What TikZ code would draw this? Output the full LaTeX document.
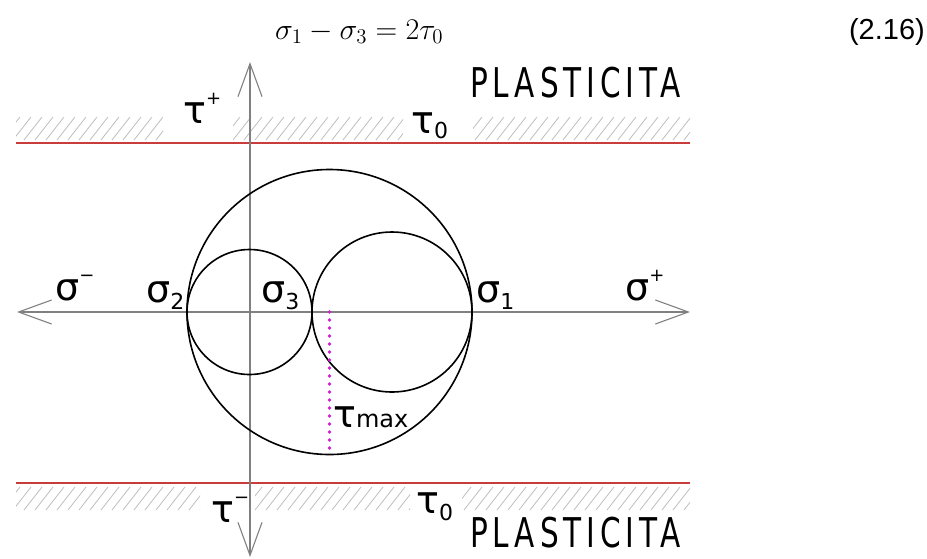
\documentclass[tikz,border=0pt]{standalone}
\usepackage{fontspec}
\usetikzlibrary{arrows.meta, positioning}
\newfontfamily\fuenteCAD{DejaVu Sans}
\newfontfamily\fuentePlast{DejaVu Sans}[FakeStretch=0.72, LetterSpace=12]
\newfontfamily\fuenteNum{Liberation Sans}
\definecolor{rojoLimite}{HTML}{C83C3C}
\definecolor{grisEje}{HTML}{808080}
\definecolor{grisRayado}{HTML}{BEBEBE}
\definecolor{magentaTau}{HTML}{D020D0}
\newcommand{\indSub}[2][-7pt]{\raisebox{#1}{\fontsize{22}{22}\selectfont #2}}
\newcommand{\indSup}[1]{\raisebox{19pt}{\fontsize{18}{18}\selectfont #1}}
\tikzset{
  ejeFlecha/.style={{Straight Barb[length=33pt, width=24pt]}-{Straight Barb[length=33pt, width=24pt]},
    line width=1.1pt, grisEje},
  limiteRojo/.style={line width=2pt, rojoLimite},
  rayado/.style={line width=0.8pt, grisRayado},
  circuloMohr/.style={circle, draw=black, line width=1.6pt, inner sep=0pt},
  lineaTau/.style={magentaTau, line width=3.6pt, line cap=round, dash pattern=on 0pt off 8pt},
  etiqueta/.style={font=\fuenteCAD\fontsize{38}{38}\selectfont, inner sep=0pt, anchor=base west},
  etiquetaPlast/.style={font=\fuentePlast\fontsize{41}{41}\selectfont, inner sep=0pt, anchor=base west},
}

\begin{document}
\begin{tikzpicture}[x=1pt, y=-1pt]
    \useasboundingbox (0,0) rectangle (927,558);
    % zonas de plasticidad (rayado)
    \foreach \ya/\yb/\xa/\xb in {117/140/16/163, 117/140/233/403, 117/140/473/690,
                                 486/510/16/200, 486/510/255/410, 486/510/462/690} {
      \begin{scope}
        \clip (\xa,\ya) rectangle (\xb,\yb);
        \foreach \x in {-20,-9,...,700} \draw[rayado] (\x,\yb) -- ++(18,-23);
      \end{scope}
    }
    \coordinate (limSupIzq) at (16,143);
    \coordinate (limSupDer) at (690,143);
    \coordinate (limInfIzq) at (16,483);
    \coordinate (limInfDer) at (690,483);
    \draw[limiteRojo] (limSupIzq) -- (limSupDer);
    \draw[limiteRojo] (limInfIzq) -- (limInfDer);
    % ejes
    \coordinate (ejeIzq) at (17,312);
    \coordinate (ejeDer) at (690,312);
    \coordinate (ejeArr) at (250,62);
    \coordinate (ejeAbj) at (250,557);
    \draw[ejeFlecha] (ejeIzq) -- (ejeDer);
    \draw[ejeFlecha] (ejeAbj) -- (ejeArr);
    % circulos de Mohr
    \node[circuloMohr, minimum size=285pt] (circGrande) at (329.5,312) {};
    \node[circuloMohr, minimum size=125pt] (circPeq) at (249.5,312) {};
    \node[circuloMohr, minimum size=160pt] (circMed) at (392,312) {};
    \draw[lineaTau] (circGrande.center) -- (circGrande.south);
    % etiquetas
    \node[anchor=base west, inner sep=0pt, font=\huge] (ecuacion) at (275,39)
      {\scalebox{1.45}{$\sigma_1-\sigma_3=2\tau_0$}};
    \node[anchor=base east, inner sep=0pt, font=\fuenteNum\fontsize{29}{29}\selectfont] (numEc) at (925,39) {(2.16)};
    \node[etiqueta] (sigMenos) at (55,300) {σ\indSup{−}};
    \node[etiqueta] (sigDos) at (146,302) {σ\indSub{2}};
    \node[etiqueta] (sigTres) at (261,302) {σ\indSub{3}};
    \node[etiqueta] (sigUno) at (476,302) {σ\indSub{1}};
    \node[etiqueta] (sigMas) at (625,300) {σ\indSup{+}};
    \node[etiqueta] (tauMas) at (183,123) {τ\indSup{+}};
    \node[etiqueta] (tauCeroSup) at (411,133) {τ\indSub[-5pt]{0}};
    \node[etiqueta] (tauMenos) at (211,522) {τ\indSup{−}};
    \node[etiqueta] (tauCeroInf) at (416,513) {τ\indSub{0}};
    \node[etiqueta] (tauMax) at (333,427) {τ{\fontsize{24}{24}\selectfont max}};
    \node[etiquetaPlast] (plastSup) at (470,97) {PLASTICITA};
    \node[etiquetaPlast] (plastInf) at (470,547) {PLASTICITA};
  \end{tikzpicture}
\end{document}
